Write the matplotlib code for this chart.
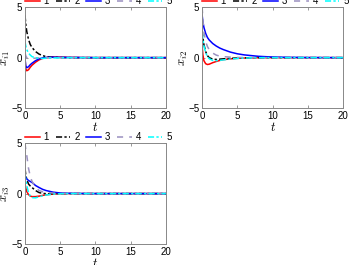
import matplotlib
matplotlib.use('Agg')
import matplotlib.pyplot as plt

plt.rcParams['font.family'] = ['Liberation Sans', 'DejaVu Sans']
plt.rcParams['mathtext.fontset'] = 'cm'

# sample times (shared by all series)
t = [0, 0.1, 0.25, 0.5, 0.75, 1, 1.5, 2, 2.5, 3, 4, 5, 6, 8, 10, 12, 15, 20]

# panel 1: x_i1
x1_1 = [0, -1.1, -1.3, -1.2, -0.95, -0.75, -0.45, -0.22, -0.08, 0.0, 0.06, 0.05, 0.03, 0.01, 0, 0, 0, 0]
x1_2 = [4.2, 3.4, 2.6, 1.8, 1.3, 1.0, 0.6, 0.35, 0.2, 0.1, 0.03, 0.01, 0, 0, 0, 0, 0, 0]
x1_3 = [0, -0.8, -1.0, -0.9, -0.7, -0.55, -0.3, -0.12, -0.03, 0.02, 0.04, 0.03, 0.02, 0.01, 0, 0, 0, 0]
x1_4 = [0.5, 0.2, 0.0, -0.1, -0.1, -0.08, -0.05, -0.03, -0.02, -0.01, 0, 0, 0, 0, 0, 0, 0, 0]
x1_5 = [1.6, 1.2, 0.8, 0.45, 0.25, 0.1, -0.02, -0.08, -0.08, -0.06, -0.03, -0.01, 0, 0, 0, 0, 0, 0]

# panel 2: x_i2
x2_1 = [1.2, 0.3, -0.3, -0.6, -0.68, -0.65, -0.5, -0.38, -0.28, -0.2, -0.12, -0.07, -0.04, -0.01, 0, 0, 0, 0]
x2_2 = [2.7, 2.0, 1.3, 0.6, 0.2, 0.0, -0.15, -0.18, -0.15, -0.12, -0.07, -0.04, -0.02, 0, 0, 0, 0, 0]
x2_3 = [4.2, 3.6, 3.0, 2.4, 2.0, 1.75, 1.4, 1.15, 0.95, 0.8, 0.55, 0.38, 0.27, 0.13, 0.06, 0.03, 0.01, 0]
x2_4 = [5.0, 3.8, 2.6, 1.6, 1.1, 0.8, 0.45, 0.25, 0.15, 0.1, 0.05, 0.02, 0.01, 0, 0, 0, 0, 0]
x2_5 = [2.5, 1.9, 1.2, 0.5, 0.1, -0.1, -0.28, -0.3, -0.27, -0.22, -0.14, -0.08, -0.04, -0.01, 0, 0, 0, 0]

# panel 3: x_i3
x3_1 = [1.0, 0.6, 0.2, -0.1, -0.25, -0.3, -0.3, -0.25, -0.18, -0.12, -0.05, -0.02, 0, 0, 0, 0, 0, 0]
x3_2 = [2.5, 1.9, 1.4, 0.95, 0.75, 0.6, 0.3, 0.1, 0.02, -0.01, 0, 0, 0, 0, 0, 0, 0, 0]
x3_3 = [1.8, 1.6, 1.45, 1.3, 1.2, 1.1, 0.8, 0.6, 0.42, 0.3, 0.14, 0.06, 0.03, 0.01, 0, 0, 0, 0]
x3_4 = [5.0, 4.4, 3.8, 2.5, 1.7, 1.2, 0.6, 0.3, 0.18, 0.1, 0.05, 0.02, 0.01, 0, 0, 0, 0, 0]
x3_5 = [2.0, 1.4, 0.8, 0.1, -0.25, -0.4, -0.42, -0.32, -0.22, -0.14, -0.05, -0.02, 0, 0, 0, 0, 0, 0]

labels = ['1', '2', '3', '4', '5']
styles = [('#ff0000', '-'), ('#000000', (0, (4, 1.5, 1.5, 1.5))), ('#0000ff', '-'),
          ('#9a90c0', (0, (4, 4))), ('#00ffff', (0, (4, 1.5, 1.5, 1.5)))]

panels = [
    ([x1_1, x1_2, x1_3, x1_4, x1_5], r'$x_{i1}$', [0.0706, 0.592, 0.398, 0.381]),
    ([x2_1, x2_2, x2_3, x2_4, x2_5], r'$x_{i2}$', [0.571, 0.592, 0.398, 0.381]),
    ([x3_1, x3_2, x3_3, x3_4, x3_5], r'$x_{i3}$', [0.0706, 0.079, 0.398, 0.381]),
]

fig = plt.figure(figsize=(3.54, 2.65), dpi=100)
for series, ylab, pos in panels:
    ax = fig.add_axes(pos)
    for y, lab, (c, ls) in zip(series, labels, styles):
        ax.plot(t, y, color=c, linestyle=ls, linewidth=1.1, label=lab)
    ax.set_xlim(0, 20)
    ax.set_ylim(-5, 5)
    ax.set_xticks([0, 5, 10, 15, 20])
    ax.set_yticks([-5, 0, 5])
    ax.tick_params(direction='in', length=2, width=0.6, labelsize=7,
                   color='#888888', top=True, right=True, pad=2)
    for s in ax.spines.values():
        s.set_color('#888888')
        s.set_linewidth(0.7)
    ax.set_xlabel(r'$t$', fontsize=9, labelpad=0)
    ax.set_ylabel(ylab, fontsize=9, labelpad=-1)
    ax.legend(loc='center', bbox_to_anchor=(0.52, 1.06), ncol=5, frameon=False,
              fontsize=7, handlelength=1.5, handletextpad=0.4, columnspacing=0.7,
              borderpad=0, borderaxespad=0)

fig.savefig('out.png', dpi=100)
